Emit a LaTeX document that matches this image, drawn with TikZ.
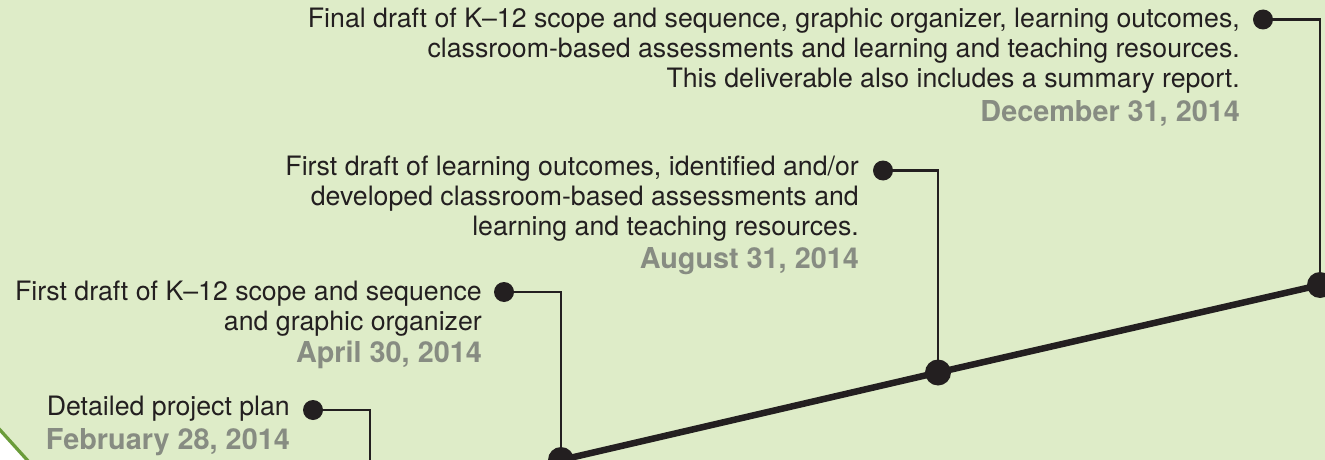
\documentclass[tikz,border=0pt]{standalone}
\usepackage{fontspec}
\setmainfont{TeX Gyre Heros}
\definecolor{bggreen}{HTML}{DEECC8}
\definecolor{bordergreen}{HTML}{6A9C3A}
\definecolor{textdark}{HTML}{231F20}
\definecolor{dategray}{HTML}{878C82}
\begin{document}
\begin{tikzpicture}[x=1pt,y=-1pt,
  txt/.style={anchor=base east, inner sep=0pt, text=textdark, font=\fontsize{26.7}{30}\selectfont},
  datetxt/.style={anchor=base east, inner sep=0pt, text=dategray, font=\fontsize{28.8}{30}\selectfont\bfseries},
  smalldot/.style={circle, fill=textdark, inner sep=0pt, minimum size=20pt},
  bigdot/.style={circle, fill=textdark, inner sep=0pt, minimum size=26pt},
  conn/.style={draw=textdark, line width=2.8pt},
  tline/.style={draw=textdark, line width=6.5pt}]
\useasboundingbox (0,0) rectangle (1325,460);
\fill[bggreen] (0,0) rectangle (1325,460);
\fill[white] (-6,423.3) -- (33.5,467) -- (-6,467) -- cycle;
\draw[bordergreen, line width=3.3pt] (-6,423.3) -- (33.5,467);

% timeline points
\coordinate (p1) at (561,460);
\coordinate (p2) at (938,372.5);
\coordinate (p3) at (1320,285);
\coordinate (p0) at (370,480);
% small dot positions
\coordinate (q4) at (313,410);
\coordinate (q3) at (504,292);
\coordinate (q2) at (883,170.5);
\coordinate (q1) at (1263,19.5);

\draw[tline] (p1) -- (p2) -- (p3);
\draw[conn] (q4) -| (p0);
\draw[conn] (q3) -| (p1);
\draw[conn] (q2) -| (p2);
\draw[conn] (q1) -| (p3);

\node[bigdot] (b1) at (p1) {};
\node[bigdot] (b2) at (p2) {};
\node[bigdot] (b3) at (p3) {};
\node[smalldot] (d4) at (q4) {};
\node[smalldot] (d3) at (q3) {};
\node[smalldot] (d2) at (q2) {};
\node[smalldot] (d1) at (q1) {};

% block 1
\node[txt] (t1a) at (1240,28) {Final draft of K–12 scope and sequence, graphic organizer, learning outcomes,};
\node[txt] (t1b) at (1240,58) {classroom-based assessments and learning and teaching resources.};
\node[txt] (t1c) at (1240,88) {This deliverable also includes a summary report.};
\node[datetxt] (t1d) at (1240,121) {December 31, 2014};
% block 2
\node[txt] (t2a) at (859,175) {First draft of learning outcomes, identified and/or};
\node[txt] (t2b) at (859,205) {developed classroom-based assessments and};
\node[txt] (t2c) at (859,235) {learning and teaching resources.};
\node[datetxt] (t2d) at (859,268) {August 31, 2014};
% block 3
\node[txt] (t3a) at (482,300) {First draft of K–12 scope and sequence};
\node[txt] (t3b) at (482,330) {and graphic organizer};
\node[datetxt] (t3c) at (482,362) {April 30, 2014};
% block 4
\node[txt] (t4a) at (290,415) {Detailed project plan};
\node[datetxt] (t4b) at (290,449) {February 28, 2014};
\end{tikzpicture}
\end{document}
